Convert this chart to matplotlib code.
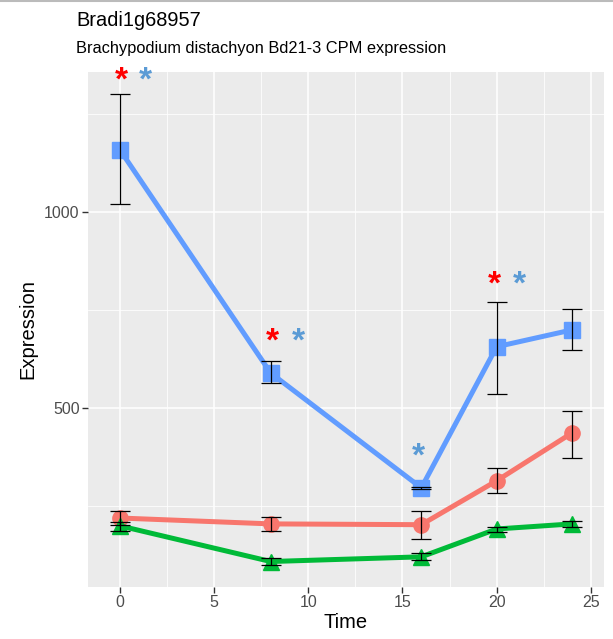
import matplotlib
matplotlib.use("Agg")
import matplotlib.pyplot as plt
from matplotlib.ticker import MultipleLocator

plt.rcParams['font.family'] = ['Liberation Sans', 'DejaVu Sans']

# Expression over time (CPM) with standard errors, three genotypes
time = [0, 8, 16, 20, 24]

red_mean = [219, 204, 202, 314, 436]
red_lo = [201, 186, 166, 283, 372]
red_hi = [237, 222, 237, 347, 492]

green_mean = [199, 108, 120, 191, 204]
green_lo = [186, 99, 112, 184, 196]
green_hi = [210, 118, 130, 196, 212]

blue_mean = [1158, 589, 296, 656, 699]
blue_lo = [1020, 564, 293, 536, 648]
blue_hi = [1301, 620, 299, 770, 753]

# Significance markers: (x, y, colour)
star_x = [0.1, 1.33, 8.1, 9.47, 15.85, 19.9, 21.2]
star_y = [1352, 1352, 686, 686, 393, 832, 832]
star_c = ['#FF0000', '#5B9BD5', '#FF0000', '#5B9BD5', '#5B9BD5', '#FF0000', '#5B9BD5']

series = [
    (red_mean, red_lo, red_hi, '#F8766D', 'o', 11),
    (green_mean, green_lo, green_hi, '#00BA38', '^', 11.5),
    (blue_mean, blue_lo, blue_hi, '#619CFF', 's', 11),
]

fig = plt.figure(figsize=(6.13, 6.39), dpi=100)
ax = fig.add_axes([88/613, 1-587/639, (604-88)/613, (587-72)/639])
ax.set_facecolor('#EBEBEB')

for mean, lo, hi, col, mk, ms in series:
    ax.plot(time, mean, color=col, lw=3.6, marker=mk, ms=ms, zorder=3,
            solid_capstyle='butt')
for mean, lo, hi, col, mk, ms in series:
    yerr = [[m - l for m, l in zip(mean, lo)], [h - m for m, h in zip(mean, hi)]]
    ax.errorbar(time, mean, yerr=yerr, fmt='none', ecolor='black',
                elinewidth=0.9, capsize=7, capthick=0.9, zorder=4)

for x, y, c in zip(star_x, star_y, star_c):
    ax.annotate('*', (x, y), xytext=(0, -5), textcoords='offset points',
                color=c, fontsize=24, fontweight='bold',
                ha='center', va='center', zorder=5)

ax.set_xlim(-1.7, 25.7)
ax.set_ylim(43, 1357)
ax.xaxis.set_major_locator(MultipleLocator(5))
ax.xaxis.set_minor_locator(MultipleLocator(2.5))
ax.yaxis.set_major_locator(MultipleLocator(500))
ax.yaxis.set_minor_locator(MultipleLocator(250))
ax.grid(which='major', color='white', lw=1.1, zorder=0)
ax.grid(which='minor', color='white', lw=0.55, zorder=0)
ax.set_axisbelow(True)
for s in ax.spines.values():
    s.set_visible(False)
ax.tick_params(which='major', length=4, width=1, color='#333333',
               labelcolor='#4D4D4D', labelsize=11.5, pad=2)
ax.tick_params(which='minor', length=0)

ax.set_xlabel('Time', fontsize=14.5, labelpad=2)
ax.set_ylabel('Expression', fontsize=14.5, labelpad=5)

fig.text(76/613, 1-20/639, 'Bradi1g68957', fontsize=14.4, va='center', ha='left')
fig.text(76/613, 1-49/639, 'Brachypodium distachyon Bd21-3 CPM expression',
         fontsize=11.8, va='center', ha='left')

fig.add_artist(plt.Line2D([0, 1], [1-1/639, 1-1/639], color='#BBBBBB', lw=1.5))

fig.savefig('out.png', dpi=100)
